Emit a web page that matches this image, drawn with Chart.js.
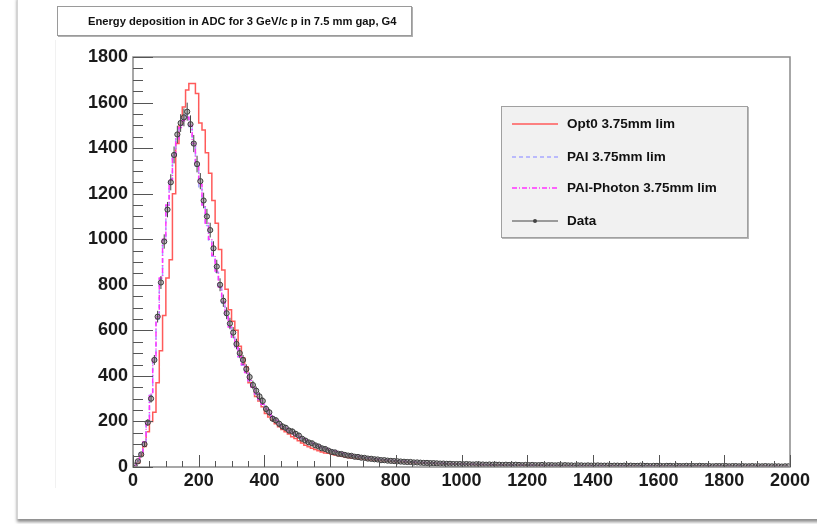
<!DOCTYPE html>
<html>
<head>
<meta charset="utf-8">
<script src="https://cdn.jsdelivr.net/npm/chart.js@4.4.1/dist/chart.umd.min.js"></script>
<style>
  html, body { margin: 0; padding: 0; background: #ffffff; }
  body { width: 817px; height: 524px; position: relative; overflow: hidden; font-family: "Liberation Sans", Arial, sans-serif; }
  #card { position: absolute; left: 17px; top: -4px; width: 810px; height: 523px; background: #fff;
          border-left: 1px solid #d4d4d4; box-shadow: 0 3px 3px rgba(0,0,0,0.45); }
  #pad { position: absolute; left: 55px; top: 40px; width: 1px; height: 448px; background: #f1f1f1; }
  #chart { position: absolute; left: 0; top: 0; }
  #title { position: absolute; left: 57px; top: 6px; height: 28px; border: 1px solid #9a9a9a;
           box-shadow: 1px 1px 0 #b0b0b0; background: #fff; font-weight: bold; font-size: 11.2px; color: #111;
           line-height: 28px; padding-left: 30px; box-sizing: content-box; white-space: nowrap; width: 323px; }
  #legend { position: absolute; left: 501px; top: 106px; width: 245px; height: 130px; background: #f1f1f1;
            border: 1px solid #a0a0a0; box-shadow: 1px 1px 0 #b8b8b8; }
  .row { position: absolute; left: 0; height: 16px; font-weight: bold; font-size: 13.5px; color: #111; white-space: nowrap; }
  .row svg { position: absolute; left: 10px; top: 2px; }
  .row span { position: absolute; left: 65px; top: 0; line-height: 16px; }
</style>
</head>
<body>
<div id="card"></div>
<div id="pad"></div>
<canvas id="chart" width="817" height="524"></canvas>
<div id="title">Energy deposition in ADC for 3 GeV/c p in 7.5 mm gap, G4</div>
<div id="legend">
  <div class="row" style="top:9px"><svg width="46" height="12"><line x1="0" y1="6" x2="46" y2="6" stroke="#ff5a5a" stroke-width="1.5"/></svg><span>Opt0 3.75mm lim</span></div>
  <div class="row" style="top:42px"><svg width="46" height="12"><line x1="0" y1="6" x2="46" y2="6" stroke="#a8a8ff" stroke-width="1.5" stroke-dasharray="4,3"/></svg><span>PAI 3.75mm lim</span></div>
  <div class="row" style="top:73px"><svg width="46" height="12"><line x1="0" y1="6" x2="46" y2="6" stroke="#ff33ff" stroke-width="1.5" stroke-dasharray="5,2,1,2"/></svg><span>PAI-Photon 3.75mm lim</span></div>
  <div class="row" style="top:106px"><svg width="46" height="12"><line x1="0" y1="6" x2="46" y2="6" stroke="#444" stroke-width="1.2"/><circle cx="23" cy="6" r="2" fill="#444"/></svg><span>Data</span></div>
</div>
<script>
// ---- histogram binning ----
const binLow = 0;
const binWidth = 10;

// ---- tick labels ----
const xTickValues = [0, 200, 400, 600, 800, 1000, 1200, 1400, 1600, 1800, 2000];
const yTickValues = [0, 200, 400, 600, 800, 1000, 1200, 1400, 1600, 1800];

// ---- series labels ----
const seriesNames = ["Opt0 3.75mm lim", "PAI 3.75mm lim", "PAI-Photon 3.75mm lim", "Data"];

// ---- series values (counts per 10-ADC bin, 0..2000) ----
const opt0 = [
  3, 17, 50, 90, 155, 200, 240, 370, 510, 665,
  830, 910, 1200, 1420, 1500, 1580, 1655, 1684, 1684, 1640,
  1510, 1480, 1380, 1290, 1170, 1070, 955, 865, 780, 690,
  640, 600, 530, 480, 440, 370, 350, 310, 290, 265,
  235, 220, 205, 190, 177, 165, 155, 145, 133, 125,
  115, 105, 95, 89, 82, 77, 71, 66, 62, 60,
  56, 53, 50, 47, 45, 42, 40, 39, 37, 35,
  34, 32, 31, 30, 28, 27, 26, 25, 24, 23,
  22, 22, 21, 20, 19, 19, 18, 17, 17, 16,
  16, 15, 15, 14, 14, 13, 13, 13, 12, 12,
  12, 11, 11, 11, 10, 10, 10, 10, 9, 9,
  9, 9, 9, 8, 8, 8, 8, 8, 8, 7,
  7, 7, 7, 7, 7, 7, 6, 6, 6, 6,
  6, 6, 6, 6, 5, 6, 5, 5, 5, 5,
  5, 5, 5, 5, 5, 5, 4, 5, 4, 4,
  4, 4, 4, 4, 4, 4, 4, 4, 4, 4,
  4, 3, 4, 3, 4, 3, 3, 3, 3, 3,
  3, 3, 3, 3, 3, 3, 3, 3, 3, 3,
  3, 3, 3, 2, 3, 3, 2, 3, 2, 3,
  2, 3, 2, 2, 2, 3, 2, 2, 2, 2
];
const pai = [
  7, 28, 62, 108, 195, 315, 470, 650, 825, 995,
  1150, 1265, 1375, 1450, 1500, 1530, 1545, 1495, 1410, 1320,
  1230, 1140, 1060, 990, 925, 855, 785, 720, 660, 612,
  566, 522, 483, 447, 413, 379, 349, 321, 296, 274,
  254, 235, 219, 204, 191, 179, 169, 159, 150, 141,
  133, 125, 117, 110, 103, 97, 91, 86, 81, 76,
  72, 68, 64, 61, 57, 54, 51, 49, 46, 44,
  42, 40, 38, 37, 35, 33, 32, 31, 29, 28,
  27, 26, 25, 24, 23, 22, 21, 20, 20, 19,
  18, 17, 17, 16, 15, 15, 14, 14, 13, 13,
  13, 12, 12, 12, 11, 11, 11, 10, 10, 10,
  10, 9, 9, 9, 9, 9, 8, 8, 8, 8,
  8, 8, 7, 7, 7, 7, 7, 7, 6, 7,
  6, 6, 6, 6, 6, 6, 5, 6, 5, 5,
  5, 5, 5, 5, 5, 5, 5, 4, 5, 4,
  4, 4, 4, 4, 4, 4, 4, 4, 4, 4,
  4, 4, 3, 4, 3, 4, 3, 3, 3, 3,
  3, 3, 3, 3, 3, 3, 3, 3, 3, 3,
  3, 3, 2, 3, 3, 3, 2, 3, 3, 2,
  3, 2, 2, 3, 2, 2, 2, 2, 2, 2
];
const paiPhoton = [
  8, 30, 60, 110, 200, 320, 480, 660, 830, 1000,
  1150, 1260, 1370, 1440, 1490, 1520, 1535, 1500, 1420, 1330,
  1240, 1150, 1070, 1000, 930, 860, 790, 725, 665, 615,
  570, 525, 485, 450, 415, 380, 350, 322, 297, 275,
  255, 236, 220, 205, 192, 180, 170, 160, 151, 142,
  134, 126, 118, 111, 104, 98, 92, 87, 82, 77,
  73, 69, 65, 61, 58, 55, 52, 49, 47, 45,
  43, 41, 39, 37, 35, 34, 32, 31, 30, 29,
  27, 26, 25, 24, 23, 22, 21, 21, 20, 19,
  18, 18, 17, 16, 16, 15, 15, 14, 14, 13,
  13, 13, 12, 12, 12, 11, 11, 11, 10, 10,
  10, 10, 9, 9, 9, 9, 9, 8, 8, 8,
  8, 8, 8, 7, 7, 7, 7, 7, 7, 6,
  6, 6, 6, 6, 6, 6, 6, 5, 5, 5,
  5, 5, 5, 5, 5, 5, 5, 5, 4, 5,
  4, 4, 4, 4, 4, 4, 4, 4, 4, 4,
  4, 4, 4, 3, 4, 3, 4, 3, 3, 3,
  3, 3, 3, 3, 3, 3, 3, 3, 3, 3,
  3, 3, 3, 3, 3, 2, 3, 3, 2, 3,
  2, 3, 2, 2, 3, 2, 2, 2, 2, 2
];
const dataCounts = [
  6, 25, 55, 100, 195, 300, 470, 660, 810, 990,
  1130, 1250, 1370, 1460, 1510, 1535, 1560, 1505, 1420, 1330,
  1255, 1170, 1100, 1040, 960, 880, 800, 730, 675, 630,
  590, 540, 500, 470, 430, 395, 360, 335, 310, 290,
  255, 240, 212, 205, 190, 178, 172, 160, 156, 146,
  138, 124, 116, 108, 104, 95, 90, 82, 79, 72,
  66, 64, 58, 57, 53, 50, 49, 45, 44, 41,
  40, 37, 36, 34, 33, 30, 30, 28, 27, 26,
  25, 24, 23, 22, 22, 20, 20, 19, 18, 18,
  17, 17, 16, 15, 15, 14, 14, 13, 13, 13,
  12, 13, 12, 11, 12, 11, 11, 10, 11, 10,
  10, 10, 9, 10, 9, 9, 10, 9, 8, 9,
  8, 9, 8, 8, 9, 7, 8, 8, 7, 8,
  7, 8, 7, 7, 6, 7, 7, 6, 7, 6,
  6, 7, 6, 6, 6, 5, 6, 6, 5, 6,
  5, 6, 5, 5, 6, 5, 5, 4, 5, 5,
  5, 4, 5, 5, 4, 5, 4, 4, 5, 4,
  4, 4, 5, 4, 4, 4, 3, 4, 4, 4,
  4, 3, 4, 4, 3, 4, 3, 3, 4, 3,
  3, 3, 4, 3, 3, 3, 3, 2, 3, 3
];

const toPoints = arr => arr.map((v, i) => ({ x: binLow + binWidth * (i + 0.5), y: v }));

// ROOT-style frame with inside ticks, plus Poisson error bars on data
const rootFrame = {
  id: 'rootFrame',
  afterDatasetsDraw(chart) {
    const ctx = chart.ctx, ys = chart.scales.y;
    const meta = chart.getDatasetMeta(3);
    ctx.save();
    ctx.strokeStyle = '#444';
    ctx.lineWidth = 1;
    meta.data.forEach((pt, i) => {
      const v = dataCounts[i];
      const e = Math.sqrt(v);
      const y1 = ys.getPixelForValue(v + e), y2 = ys.getPixelForValue(Math.max(0, v - e));
      ctx.beginPath(); ctx.moveTo(pt.x, y1); ctx.lineTo(pt.x, y2); ctx.stroke();
    });
    ctx.restore();
  },
  afterDraw(chart) {
    const ctx = chart.ctx, a = chart.chartArea, xs = chart.scales.x, ys = chart.scales.y;
    ctx.save();
    ctx.strokeStyle = '#8a8a8a';
    ctx.lineWidth = 1.5;
    ctx.strokeRect(a.left, a.top, a.right - a.left, a.bottom - a.top);
    ctx.strokeStyle = '#555';
    ctx.lineWidth = 1;
    for (let v = xs.min; v <= xs.max; v += 50) {
      const px = Math.round(xs.getPixelForValue(v)) + 0.5;
      const len = (v % 200 === 0) ? 12 : 6;
      ctx.beginPath(); ctx.moveTo(px, a.bottom); ctx.lineTo(px, a.bottom - len); ctx.stroke();
    }
    for (let v = ys.min; v <= ys.max; v += 50) {
      const py = Math.round(ys.getPixelForValue(v)) + 0.5;
      const len = (v % 200 === 0) ? 20 : 10;
      ctx.beginPath(); ctx.moveTo(a.left, py); ctx.lineTo(a.left + len, py); ctx.stroke();
    }
    ctx.restore();
  }
};

const tickFont = { family: 'Liberation Sans', size: 18, weight: 'bold' };

new Chart(document.getElementById('chart'), {
  type: 'line',
  data: {
    datasets: [
      { label: seriesNames[0], data: toPoints(opt0), stepped: 'middle', borderColor: '#ff5a5a', borderWidth: 1.5, pointRadius: 0, fill: false, order: 3 },
      { label: seriesNames[1], data: toPoints(pai), stepped: 'middle', borderColor: '#a8a8ff', borderWidth: 1.5, borderDash: [4, 3], pointRadius: 0, fill: false, order: 2 },
      { label: seriesNames[2], data: toPoints(paiPhoton), stepped: 'middle', borderColor: '#ff33ff', borderWidth: 1.5, borderDash: [5, 2, 1, 2], pointRadius: 0, fill: false, order: 1 },
      { label: seriesNames[3], data: toPoints(dataCounts), showLine: false, pointRadius: 2.6, pointBorderWidth: 1,
        pointBorderColor: '#3a3a3a', pointBackgroundColor: 'rgba(140,140,140,0.55)', order: 0 }
    ]
  },
  options: {
    responsive: false,
    animation: false,
    devicePixelRatio: 1,
    layout: { padding: { left: 0, top: 57, right: 27, bottom: 0 } },
    plugins: { legend: { display: false }, tooltip: { enabled: false }, title: { display: false } },
    scales: {
      x: {
        type: 'linear', min: 0, max: 2000,
        afterFit(s) { s.height = 57; },
        afterBuildTicks(s) { s.ticks = xTickValues.map(v => ({ value: v })); },
        grid: { display: false, drawTicks: false },
        border: { display: false },
        ticks: { padding: 3, maxRotation: 0, autoSkip: false, color: '#1a1a1a', font: tickFont,
                 callback: v => String(v) }
      },
      y: {
        type: 'linear', min: 0, max: 1800,
        afterFit(s) { s.width = 133; },
        afterBuildTicks(s) { s.ticks = yTickValues.map(v => ({ value: v })); },
        grid: { display: false, drawTicks: false },
        border: { display: false },
        ticks: { padding: 5, autoSkip: false, color: '#1a1a1a', font: tickFont,
                 callback: v => String(v) }
      }
    }
  },
  plugins: [rootFrame]
});
</script>
</body>
</html>
